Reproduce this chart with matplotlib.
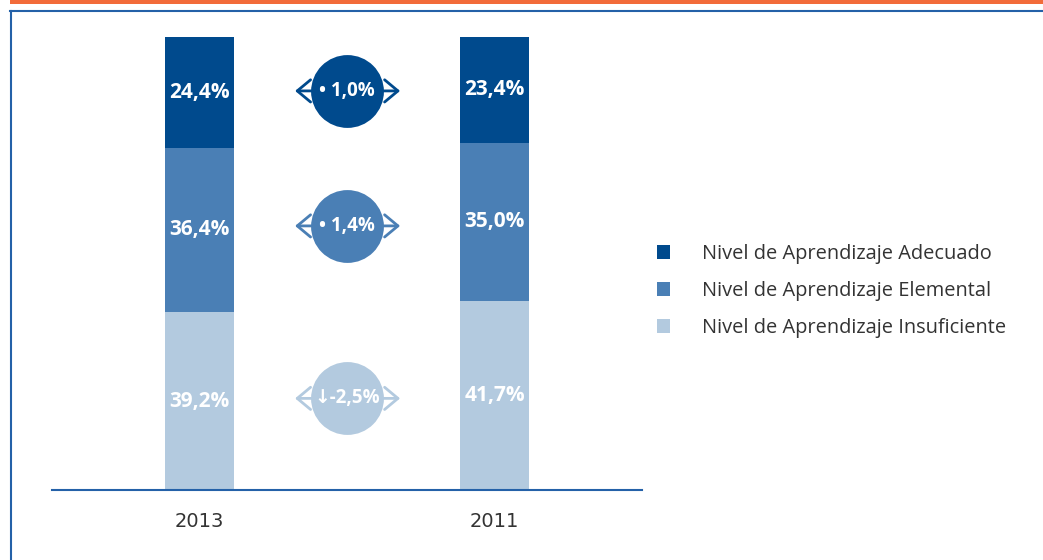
import matplotlib
matplotlib.use('Agg')
import matplotlib.pyplot as plt
from matplotlib.lines import Line2D
from matplotlib.patches import Rectangle

# data
years = ['2013', '2011']
adecuado = [24.4, 23.4]
elemental = [36.4, 35.0]
insuficiente = [39.2, 41.7]
labels = ['Nivel de Aprendizaje Adecuado', 'Nivel de Aprendizaje Elemental',
          'Nivel de Aprendizaje Insuficiente']

c_dark = '#004A8D'
c_mid = '#4A7FB5'
c_light = '#B3CADF'
c_line = '#2461A8'

W, H = 1043, 560
fig = plt.figure(figsize=(W / 100, H / 100), dpi=100)
ax = fig.add_axes([52 / W, (H - 490) / H, 590 / W, 453 / H])

x = list(range(len(years)))
bw = 0.234
b_ins = ax.bar(x, insuficiente, bw, color=c_light)
b_ele = ax.bar(x, elemental, bw, bottom=insuficiente, color=c_mid)
bot2 = [a + b for a, b in zip(insuficiente, elemental)]
b_ade = ax.bar(x, adecuado, bw, bottom=bot2, color=c_dark)

ax.set_xlim(-0.5, 1.5)
ax.set_ylim(0, 100)
ax.set_yticks([])
ax.set_xticks(x)
ax.set_xticklabels(years, family=['Liberation Sans Narrow', 'DejaVu Sans'], fontsize=14, color='#333333')
ax.tick_params(axis='x', length=0, pad=16)
for s in ['top', 'right', 'left']:
    ax.spines[s].set_visible(False)
ax.spines['bottom'].set_color(c_line)
ax.spines['bottom'].set_linewidth(1.5)

def fmt(v):
    return ('%.1f' % v).replace('.', ',') + '%'

# value labels inside segments
for i in x:
    segs = [(0, insuficiente[i]), (insuficiente[i], elemental[i]), (bot2[i], adecuado[i])]
    for b, h in segs:
        ax.text(i, b + h / 2, fmt(h), ha='center', va='center', color='white',
                fontsize=15, fontweight='bold', family=['Open Sans', 'DejaVu Sans'])

# difference circles between the bars
series = [(insuficiente, c_light), (elemental, c_mid), (adecuado, c_dark)]
bottoms = [[0, 0], insuficiente, bot2]
for (vals, col), bts in zip(series, bottoms):
    ym = sum(b + v / 2 for b, v in zip(bts, vals)) / 2
    diff = vals[0] - vals[1]
    ax.annotate('', xy=(0.324, ym), xytext=(0.68, ym),
                arrowprops=dict(arrowstyle='<->,head_length=0.6,head_width=0.5',
                                color=col, lw=2, shrinkA=0, shrinkB=0, mutation_scale=16),
                zorder=2)
    ax.scatter([0.5], [ym], s=2750, color=col, zorder=3, linewidths=0)
    sym = '\u2022 ' if diff >= 0 else '\u2193'
    ax.text(0.5, ym, sym + fmt(diff), ha='center', va='center', color='white',
            fontsize=13.5, fontweight='bold', family=['Open Sans', 'DejaVu Sans'], zorder=4)

leg = fig.legend([b_ade, b_ele, b_ins], labels, loc='center left',
                 bbox_to_anchor=(657 / W, 1 - 291 / H), frameon=False,
                 prop={'family': 'Open Sans', 'size': 14.4},
                 handlelength=0.65, handleheight=0.65, handletextpad=1.6,
                 labelspacing=0.85, borderpad=0, borderaxespad=0)
for t in leg.get_texts():
    t.set_color('#333333')

# page frame
fig.add_artist(Rectangle((10 / W, 1 - 3.5 / H), 1, 3.5 / H, color='#F26B3A',
                         transform=fig.transFigure, lw=0))
fig.add_artist(Line2D([10 / W, 1], [1 - 10.5 / H] * 2, color=c_line, lw=1.5))
fig.add_artist(Line2D([10.5 / W] * 2, [0, 1 - 10.5 / H], color=c_line, lw=1.5))

fig.savefig('out.png', dpi=100)
